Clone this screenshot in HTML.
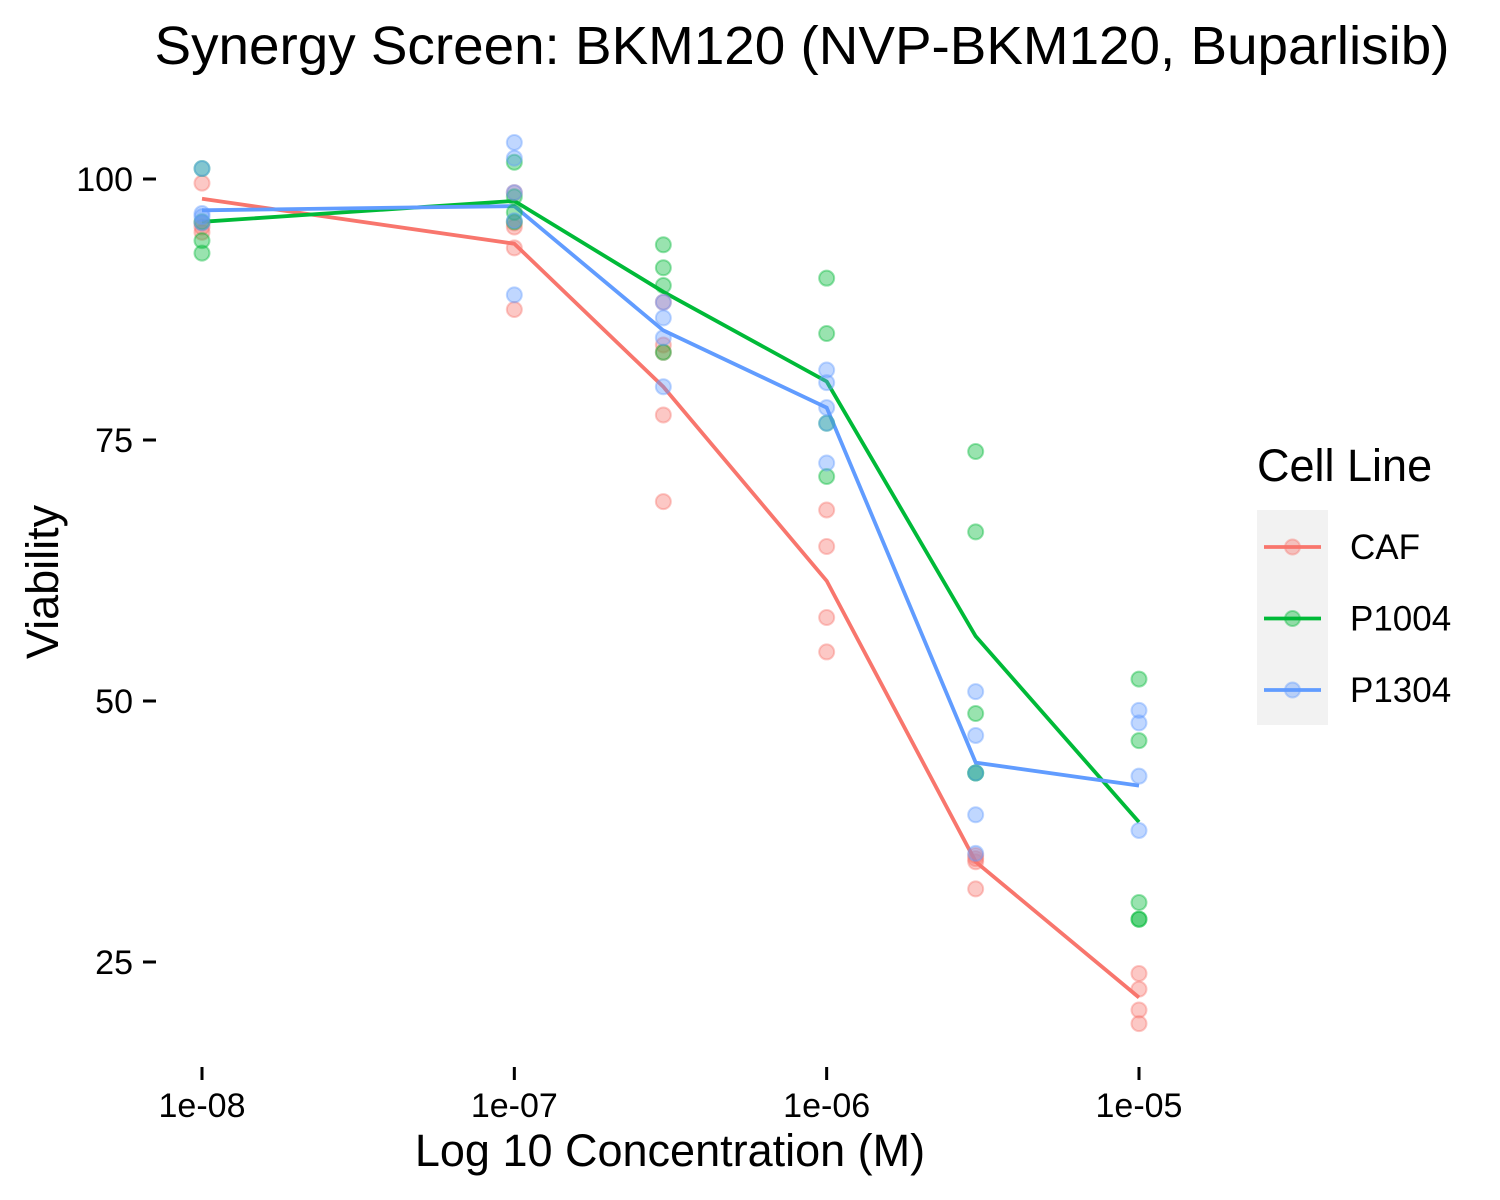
<!DOCTYPE html>
<html><head><meta charset="utf-8"><style>
body{margin:0;background:#fff;}
svg{display:block;font-family:"Liberation Sans",Arial,sans-serif;}
</style></head><body>
<svg id="chart" width="1500" height="1200" viewBox="0 0 1500 1200">
<text x="802" y="64" font-size="54" text-anchor="middle" fill="#000" textLength="1295" lengthAdjust="spacingAndGlyphs">Synergy Screen: BKM120 (NVP-BKM120, Buparlisib)</text>
<g id="yaxis"></g>
<g id="xaxis"></g>
<g id="lines"></g>
<g id="points"></g>
<text x="670" y="1166" font-size="45" text-anchor="middle">Log 10 Concentration (M)</text>
<text transform="translate(58,582) rotate(-90)" font-size="45" text-anchor="middle">Viability</text>
<g>
<text x="1257" y="481" font-size="45">Cell Line</text>
<rect x="1257" y="510" width="71" height="215" fill="#f2f2f2"/>
<g id="legend-items"></g>
</g>
</svg>
<script>
const concentrations = [1e-8, 1e-7, 3e-7, 1e-6, 3e-6, 1e-5];
const xTicks = [1e-8, 1e-7, 1e-6, 1e-5];
const xTickLabels = ["1e-08", "1e-07", "1e-06", "1e-05"];
const yTicks = [25, 50, 75, 100];
const seriesNames = ["CAF", "P1004", "P1304"];
const cafPoints = [[99.6, 95.4, 94.9, 95.8], [98.7, 95.8, 95.4, 93.4, 87.5], [88.2, 84.1, 83.4, 77.4, 69.1], [68.3, 64.8, 58.0, 54.7], [35.2, 34.9, 34.6, 32.0], [23.9, 22.4, 20.4, 19.1]];
const p1004Points = [[101.0, 95.9, 94.1, 92.9], [101.6, 98.3, 96.8, 95.9], [93.7, 91.5, 89.8, 83.4], [90.5, 85.2, 76.6, 71.5], [73.9, 66.2, 48.8, 43.1, 43.1], [52.1, 46.2, 30.7, 29.1, 29.1]];
const p1304Points = [[101.0, 96.7, 95.8, 96.4], [103.5, 102.0, 98.7, 88.9, 96.0], [88.2, 86.7, 84.8, 80.1], [81.7, 80.5, 78.1, 76.6, 72.8], [50.9, 46.7, 43.1, 39.1, 35.4], [49.1, 47.9, 42.8, 37.6]];
const cafLine = [98.1, 93.8, 80.1, 61.5, 34.6, 21.6];
const p1004Line = [95.9, 97.9, 89.2, 80.6, 56.2, 38.4];
const p1304Line = [97.0, 97.4, 85.5, 78.1, 44.1, 41.9];

const colors = ["#F8766D", "#00BA38", "#619CFF"];
const NS = "http://www.w3.org/2000/svg";
function xs(c){ return 202 + (Math.log10(c) + 8) * 312.33; }
function ys(v){ return 179 + (100 - v) * 10.44; }
function mk(tag, attrs, parent){ const e = document.createElementNS(NS, tag); for (const k in attrs) e.setAttribute(k, attrs[k]); parent.appendChild(e); return e; }

const yAxis = document.getElementById('yaxis');
yTicks.forEach(t => {
  const l = mk('line', {x1: 143, x2: 156, y1: ys(t), y2: ys(t), stroke: '#000', 'stroke-width': 3}, yAxis);
  
  
  const tx = mk('text', {x: 133, y: ys(t) + 12, 'font-size': 34, 'text-anchor': 'end'}, yAxis);
  tx.textContent = t;
  
  
});
const xAxis = document.getElementById('xaxis');
xTicks.forEach((t, i) => {
  const l = mk('line', {x1: xs(t), x2: xs(t), y1: 1067, y2: 1080, stroke: '#000', 'stroke-width': 3}, xAxis);
  
  
  const tx = mk('text', {x: xs(t), y: 1117, 'font-size': 34, 'text-anchor': 'middle'}, xAxis);
  tx.textContent = xTickLabels[i];
  
  
});

const allPoints = [cafPoints, p1004Points, p1304Points];
const allLines = [cafLine, p1004Line, p1304Line];
const pg = document.getElementById('points');
allPoints.forEach((ser, si) => {
  ser.forEach((vals, ci) => {
    vals.forEach(v => {
      const c = mk('circle', {cx: xs(concentrations[ci]), cy: ys(v), r: 7.5, fill: colors[si], 'fill-opacity': 0.4, stroke: colors[si], 'stroke-opacity': 0.4, 'stroke-width': 2}, pg);
      
      
    });
  });
});
const lg = document.getElementById('lines');
allLines.forEach((ser, si) => {
  const d = ser.map((v, i) => (i ? 'L' : 'M') + xs(concentrations[i]).toFixed(1) + ',' + ys(v).toFixed(1)).join(' ');
  const p = mk('path', {d: d, fill: 'none', stroke: colors[si], 'stroke-width': 3.8}, lg);
  
  
});
const li = document.getElementById('legend-items');
seriesNames.forEach((n, i) => {
  const y = 547 + i * 71.5;
  const g = mk('g', {}, li);
  
  
  mk('line', {x1: 1264, x2: 1321, y1: y, y2: y, stroke: colors[i], 'stroke-width': 3.8}, g);
  mk('circle', {cx: 1292.5, cy: y, r: 7.5, fill: colors[i], 'fill-opacity': 0.4, stroke: colors[i], 'stroke-opacity': 0.4, 'stroke-width': 2}, g);
  const t = mk('text', {x: 1350, y: y + 12, 'font-size': 35}, g);
  t.textContent = n;
});
</script>
</body></html>
